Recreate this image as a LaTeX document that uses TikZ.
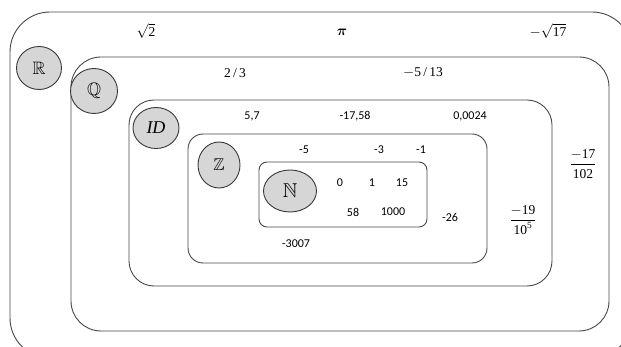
\documentclass[tikz,border=0pt]{standalone}
\usepackage{amsmath,amssymb}
\usepackage{fontspec}
\setmainfont{Liberation Serif}
\newfontfamily\numfont{Carlito}
\usetikzlibrary{shapes.geometric}
\tikzset{
  setbox/.style={draw=black!72, line width=0.9pt},
  setlabel/.style={draw=black!78, line width=0.9pt, fill=black!16, ellipse, inner sep=0pt},
  numtxt/.style={font=\numfont\fontsize{12}{14}\selectfont, inner sep=0pt},
  mathtxt/.style={font=\fontsize{13.5}{15}\selectfont, inner sep=0pt},
}
\newcommand{\tn}[1]{\text{#1}}
\begin{document}
\begin{tikzpicture}[x=1pt,y=-1pt]
\useasboundingbox (0,0) rectangle (621,347);
\begin{scope}
\clip (0,0) rectangle (621,347);
\draw[setbox, rounded corners=40] (10,12) rectangle (632,358);
\end{scope}
\draw[setbox, rounded corners=30] (71,57) rectangle (609,331);
\draw[setbox, rounded corners=25] (129,100) rectangle (552,286);
\draw[setbox, rounded corners=15] (188,134) rectangle (487,263);
\draw[setbox, rounded corners=8] (259,162) rectangle (427,227);
% set labels
\node[setlabel, minimum width=45, minimum height=43, font=\fontsize{18}{20}\selectfont] (R) at (39,68) {$\mathbb{R}$};
\node[setlabel, minimum width=47, minimum height=45, font=\fontsize{18}{20}\selectfont] (Q) at (94,91) {$\mathbb{Q}$};
\node[setlabel, minimum width=46, minimum height=41, font=\fontsize{18}{20}\selectfont] (ID) at (156,128) {\textit{ID}};
\node[setlabel, minimum width=42, minimum height=46, font=\fontsize{17}{20}\selectfont] (Z) at (219,165) {$\mathbb{Z}$};
\node[setlabel, minimum width=53, minimum height=42, font=\fontsize{20}{22}\selectfont] (N) at (290,191) {$\mathbb{N}$};
% reals
\node[mathtxt] (r1) at (146,31) {$\sqrt{\tn{2}}$};
\node[mathtxt] (r2) at (342,32) {$\boldsymbol{\pi}$};
\node[mathtxt] (r3) at (548,31) {$-\sqrt{\tn{17}}$};
\node[mathtxt] (r4) at (583,164) {$\dfrac{-\tn{17}}{\tn{102}}$};
% rationals
\node[mathtxt] (q1) at (235,73) {2\,/\,3};
\node[mathtxt] (q2) at (423,73) {$-$5\,/\,13};
\node[mathtxt] (q3) at (523,220) {$\dfrac{-\tn{19}}{\tn{10}^{\tn{5}}}$};
% decimals
\node[numtxt] (d1) at (252,116) {5,7};
\node[numtxt] (d2) at (355,116) {-17,58};
\node[numtxt] (d3) at (470,116) {0,0024};
% integers
\node[numtxt] (z1) at (304,150) {-5};
\node[numtxt] (z2) at (379,150) {-3};
\node[numtxt] (z3) at (421,150) {-1};
\node[numtxt] (z4) at (450,217) {-26};
\node[numtxt] (z5) at (296,244) {-3007};
% naturals
\node[numtxt] (n1) at (340,183) {0};
\node[numtxt] (n2) at (372,183) {1};
\node[numtxt] (n3) at (402,183) {15};
\node[numtxt] (n4) at (353,212) {58};
\node[numtxt] (n5) at (393,212) {1000};
\end{tikzpicture}
\end{document}
